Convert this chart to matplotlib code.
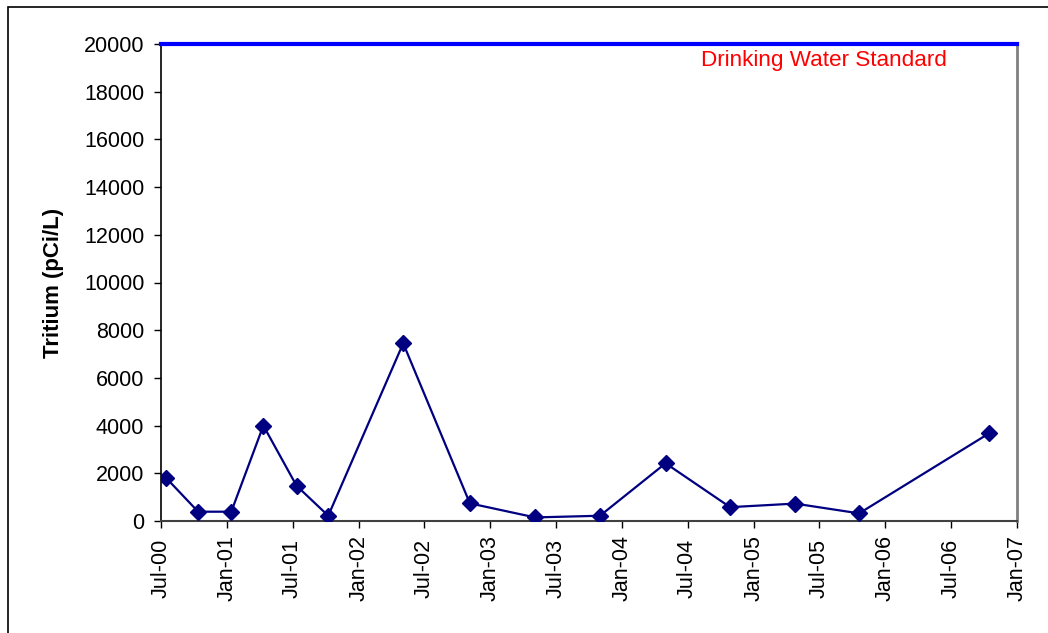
import datetime as dt
import matplotlib
matplotlib.use("Agg")
import matplotlib.pyplot as plt
import matplotlib.dates as mdates
from matplotlib.patches import Rectangle

plt.rcParams['font.family'] = ['Liberation Sans', 'DejaVu Sans']

# sample dates and tritium results (pCi/L)
sample_dates = ["2000-07-15", "2000-10-12", "2001-01-12", "2001-04-11",
                "2001-07-12", "2001-10-08", "2002-05-04", "2002-11-05",
                "2003-05-05", "2003-11-01", "2004-05-01", "2004-10-27",
                "2005-04-25", "2005-10-20", "2006-10-16"]
tritium = [1810, 390, 390, 4000, 1480, 220, 7450, 740,
           150, 220, 2420, 580, 730, 320, 3680]
standard = 20000
standard_label = "Drinking Water Standard"
y_label = "Tritium (pCi/L)"
x_start = "2000-07-01"
x_end = "2007-01-01"

dates = [dt.datetime.strptime(d, "%Y-%m-%d") for d in sample_dates]

W, H = 1048, 633
fig = plt.figure(figsize=(W / 100, H / 100), dpi=100)
ax = fig.add_axes([161 / W, 1 - 521 / H, (1017 - 161) / W, (521 - 44) / H])

# outer chart border (cut off on right and bottom)
fig.patches.append(Rectangle((8 / W, -0.1), 1.2, 1.1 - 7 / H, transform=fig.transFigure,
                             fill=False, edgecolor="black", linewidth=1.2))

ax.plot(dates, tritium, color="#000080", linewidth=1.6, marker="D",
        markersize=8.5, markerfacecolor="#000080", markeredgecolor="#000080",
        zorder=3)
ax.axhline(standard, color="#0000FF", linewidth=3, zorder=4, clip_on=False)
ax.text(0.631, 19080, standard_label, transform=ax.get_yaxis_transform(),
        color="#FF0000", fontsize=16.2, ha="left", va="baseline")

ax.set_xlim(dt.datetime.strptime(x_start, "%Y-%m-%d"),
            dt.datetime.strptime(x_end, "%Y-%m-%d"))
ax.set_ylim(0, standard)
ax.set_yticks(range(0, 20001, 2000))

ax.xaxis.set_major_locator(mdates.MonthLocator(bymonth=[1, 7]))
ax.xaxis.set_major_formatter(mdates.DateFormatter("%b-%y"))

ax.tick_params(axis="y", direction="out", length=5, width=1, pad=7, labelsize=15.5)
ax.tick_params(axis="x", direction="out", length=5, width=1, pad=29, labelsize=15.5)
for lab in ax.get_xticklabels():
    lab.set_rotation(90)
    lab.set_va("center")
    lab.set_ha("center")

ax.set_ylabel(y_label, fontsize=16, fontweight="bold", labelpad=14)

ax.spines["top"].set_visible(False)
ax.spines["left"].set_color("black")
ax.spines["left"].set_linewidth(1.2)
ax.spines["bottom"].set_color("#404040")
ax.spines["bottom"].set_linewidth(1.5)
ax.spines["right"].set_color("#808080")
ax.spines["right"].set_linewidth(2)

fig.savefig("out.png", dpi=100)
